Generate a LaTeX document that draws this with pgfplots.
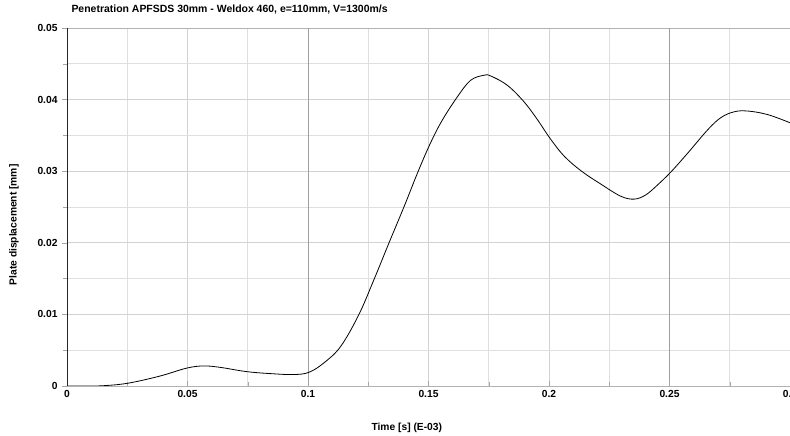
\documentclass[border=0pt]{standalone}
\usepackage{pgfplots}
\pgfplotsset{compat=1.18}
\usepackage{fontspec}
\setmainfont{Liberation Sans}
\begin{document}
\begin{tikzpicture}
\begin{axis}[
  scale only axis,
  width=723bp, height=358bp,
  xmin=0, xmax=0.3, ymin=0, ymax=0.05,
  scaled ticks=false,
  xtick={0,0.05,0.1,0.15,0.2,0.25,0.3},
  xticklabels={0,0.05,0.1,0.15,0.2,0.25,0.3},
  ytick={0,0.01,0.02,0.03,0.04,0.05},
  yticklabels={0,0.01,0.02,0.03,0.04,0.05},
  minor x tick num=1, minor y tick num=1,
  grid=both,
  major grid style={gray!35, line width=0.6bp},
  minor grid style={gray!25, line width=0.6bp},
  axis line style={gray!60},
  xtick align=inside, ytick align=outside,
  major tick length=5bp, minor tick length=4bp,
  tick style={gray!70},
  xtick pos=bottom, ytick pos=left,
  /pgf/number format/assume math mode=true,
  tick label style={font=\fontsize{10.3}{12}\selectfont\bfseries},
  xticklabel style={yshift=-1bp},
  yticklabel style={xshift=-1bp},
  title={Penetration APFSDS 30mm - Weldox 460, e=110mm, V=1300m/s},
  title style={font=\fontsize{10.5}{12}\selectfont\bfseries, at={(axis description cs:0,1)}, anchor=base west, xshift=1bp, yshift=10bp},
  xlabel={Time [s] (E-03)},
  xlabel style={font=\fontsize{10.3}{12}\selectfont\bfseries, at={(axis description cs:0.47,-0.117)}, anchor=center},
  ylabel={Plate displacement [mm]},
  ylabel style={font=\fontsize{10.3}{12}\selectfont\bfseries, at={(axis description cs:-0.0733,0.45)}, anchor=center, rotate=0},
  extra x ticks={0.1,0.25},
  extra x tick labels={},
  extra x tick style={grid=major, major grid style={gray!75, line width=0.6bp}},
]
\addplot[black, line width=0.8bp, smooth, tension=0.6] coordinates {
(0,0) (0.008,0.00001) (0.0151,0.00004) (0.0255,0.0004) (0.0387,0.0014)
(0.0497,0.0025) (0.0567,0.0028) (0.0636,0.0026) (0.0747,0.0020) (0.0858,0.0017)
(0.0941,0.0016) (0.1003,0.0019) (0.1065,0.0032) (0.1135,0.0055) (0.121,0.0099)
(0.1273,0.0148) (0.1335,0.0199) (0.1398,0.0250) (0.1455,0.0298) (0.1505,0.0337)
(0.1555,0.0370) (0.162,0.0404) (0.1675,0.0427) (0.173,0.0434) (0.1758,0.0433)
(0.1827,0.0420) (0.1896,0.0397) (0.1952,0.0372) (0.2004,0.0346) (0.2063,0.0321)
(0.2135,0.0300) (0.2215,0.0282) (0.2298,0.0265) (0.2354,0.0261) (0.2402,0.0267)
(0.2451,0.0281) (0.2506,0.0299) (0.2575,0.0325) (0.2659,0.0358) (0.2714,0.0375)
(0.2769,0.0383) (0.2825,0.0384) (0.2908,0.0379) (0.3005,0.0367)
};
\draw[black!85, line width=0.8bp] (rel axis cs:0,1) -- (rel axis cs:0,0) -- (rel axis cs:1,0);
\end{axis}
\pgfresetboundingbox
\path[use as bounding box] ([xshift=-67bp,yshift=-50bp]current axis.south west) rectangle ([yshift=28bp]current axis.north east);
\end{tikzpicture}
\end{document}
